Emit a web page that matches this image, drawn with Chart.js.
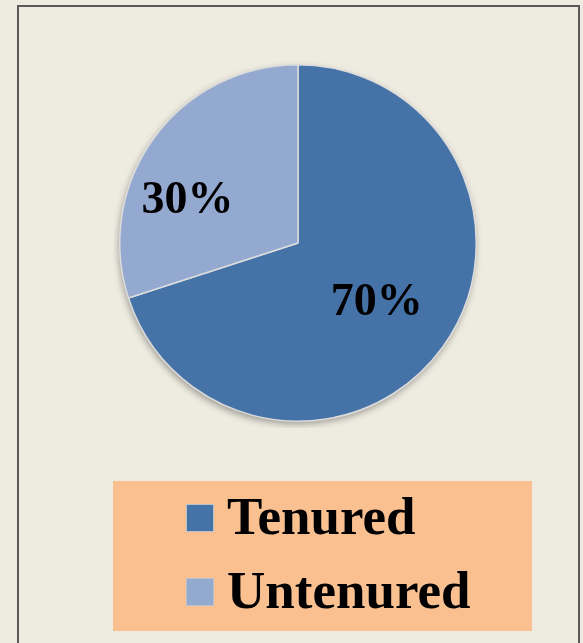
<!DOCTYPE html>
<html>
<head>
<meta charset="utf-8">
<script src="https://cdn.jsdelivr.net/npm/chart.js@4.4.0/dist/chart.umd.min.js"></script>
<style>
  html, body { margin:0; padding:0; width:583px; height:643px; background:#EEEBE0; overflow:hidden; }
  #frame { position:absolute; left:17px; top:5px; width:563px; height:700px; border:2px solid #595959; box-sizing:border-box; }
  #wrap { position:absolute; left:113px; top:58px; width:370px; height:370px; }
  #legend { position:absolute; left:113px; top:481px; width:419px; height:150px; background:#FAC090; }
  .item { position:absolute; left:73px; height:40px; font-family:"Liberation Serif", "DejaVu Serif", serif; font-weight:bold; font-size:53px; color:#000; white-space:nowrap; }
  .sw { position:absolute; left:0; width:26px; height:26px; border:1.5px solid #b9c1cf; }
  .txt { position:absolute; left:41px; line-height:1; }
</style>
</head>
<body>
<div id="frame"></div>
<div id="wrap"><canvas id="c"></canvas></div>
<div id="legend"></div>
<script>
const categories = ["Tenured", "Untenured"];
const values = [70, 30];
const pctLabels = ["70%", "30%"];
const colors = ["#4572A7", "#94A9D0"];

const shadowPlugin = {
  id: 'pieShadow',
  beforeDatasetsDraw(chart) {
    const arc = chart.getDatasetMeta(0).data[0];
    if (!arc) return;
    const ctx = chart.ctx;
    ctx.save();
    ctx.shadowColor = 'rgba(0,0,0,0.35)';
    ctx.shadowBlur = 7;
    ctx.shadowOffsetX = -1;
    ctx.shadowOffsetY = 3;
    ctx.fillStyle = '#cccccc';
    ctx.beginPath();
    ctx.arc(arc.x, arc.y, arc.outerRadius, 0, Math.PI * 2);
    ctx.fill();
    ctx.restore();
  }
};

const labelPlugin = {
  id: 'sliceLabels',
  afterDatasetsDraw(chart, args, opts) {
    const ctx = chart.ctx;
    const meta = chart.getDatasetMeta(0);
    ctx.save();
    ctx.font = 'bold 46px "Liberation Serif", serif';
    ctx.fillStyle = '#000';
    ctx.textAlign = 'center';
    ctx.textBaseline = 'middle';
    meta.data.forEach((arc, i) => {
      const mid = (arc.startAngle + arc.endAngle) / 2;
      const r = arc.outerRadius * opts.radial[i];
      const x = arc.x + Math.cos(mid) * r + opts.offsets[i][0];
      const y = arc.y + Math.sin(mid) * r + opts.offsets[i][1];
      ctx.fillText(pctLabels[i], x, y);
    });
    ctx.restore();
  }
};

const chart = new Chart(document.getElementById('c'), {
  type: 'pie',
  data: {
    labels: categories,
    datasets: [{
      data: values,
      backgroundColor: colors,
      borderColor: '#dcdcdc',
      borderWidth: 1.5
    }]
  },
  options: {
    responsive: true,
    maintainAspectRatio: false,
    animation: false,
    layout: { padding: 6 },
    plugins: {
      legend: { display: false },
      tooltip: { enabled: false },
      sliceLabels: { radial: [0.54, 0.67], offsets: [[1, 4], [-14, 28]] }
    }
  },
  plugins: [shadowPlugin, labelPlugin]
});

// HTML legend generated from chart data
const legend = document.getElementById('legend');
const tops = [21, 95];
chart.data.labels.forEach((lab, i) => {
  const it = document.createElement('div');
  it.className = 'item';
  it.style.top = tops[i] + 'px';
  const sw = document.createElement('div');
  sw.className = 'sw';
  sw.style.top = '2px';
  sw.style.background = chart.data.datasets[0].backgroundColor[i];
  const t = document.createElement('div');
  t.className = 'txt';
  t.style.top = '-12px';
  t.textContent = lab;
  it.appendChild(sw); it.appendChild(t);
  legend.appendChild(it);
});
</script>
</body>
</html>
